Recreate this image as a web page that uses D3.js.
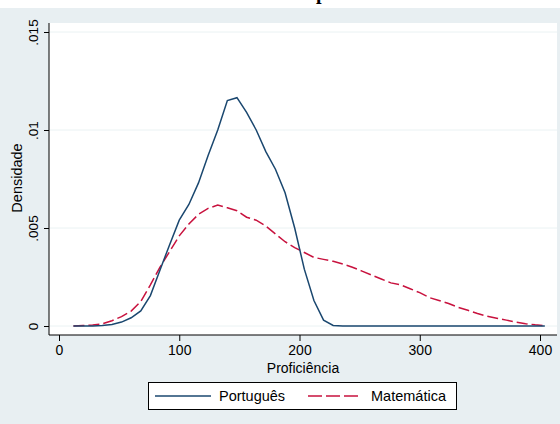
<!DOCTYPE html>
<html>
<head>
<meta charset="utf-8">
<script src="https://cdn.jsdelivr.net/npm/d3@7"></script>
<style>
  body { margin: 0; background: #ffffff; }
  text { font-family: "Liberation Sans", Arial, sans-serif; }
</style>
</head>
<body>
<script>
// evaluation points (Proficiência)
const xs = [12, 20, 28, 36, 44, 52, 60, 68, 76, 84, 92, 100, 108, 116, 124, 132, 140, 148, 156, 164,
            172, 180, 188, 196, 204, 212, 220, 228, 236, 244, 252, 260, 268, 276, 284, 292, 300, 308,
            316, 324, 332, 340, 348, 356, 364, 372, 380, 388, 396, 404];

const portugues = [0, 0, 0, 0.00002, 0.00008, 0.0002, 0.00042, 0.00077, 0.00155, 0.00286, 0.00415,
                   0.0054, 0.0062, 0.0073, 0.0087, 0.0100, 0.0115, 0.01165, 0.0109, 0.0100, 0.0089,
                   0.0080, 0.0068, 0.0050, 0.0029, 0.0013, 0.0003, 0.00003, 0, 0, 0, 0, 0, 0, 0, 0,
                   0, 0, 0, 0, 0, 0, 0, 0, 0, 0, 0, 0, 0, 0];

const matematica = [0, 0.00002, 0.00005, 0.00011, 0.00027, 0.00048, 0.00076, 0.00125, 0.0021, 0.0030,
                    0.0038, 0.0046, 0.0052, 0.0057, 0.0060, 0.00617, 0.00603, 0.00588, 0.00555, 0.0054,
                    0.0051, 0.0047, 0.0043, 0.0040, 0.00375, 0.0035, 0.0034, 0.0033, 0.00316, 0.0030,
                    0.0028, 0.0026, 0.0024, 0.0022, 0.0021, 0.0019, 0.0017, 0.00145, 0.0013, 0.00115,
                    0.00095, 0.0008, 0.00064, 0.0005, 0.0004, 0.0003, 0.0002, 0.00012, 0.00006, 0.00002];

const xTicks = [0, 100, 200, 300, 400];
const yTicks = [0, 0.005, 0.01, 0.015];
const yTickLabels = ["0", ".005", ".01", ".015"];
const seriesNames = ["Português", "Matemática"];

const W = 560, H = 424;
const plot = { left: 49, right: 557, top: 23, bottom: 335 };

const svg = d3.select('body').append('svg')
  .attr('width', W).attr('height', H);

// backgrounds
svg.append('rect').attr('width', W).attr('height', H).attr('fill', '#ffffff');
svg.append('rect').attr('x', 0).attr('y', 8).attr('width', W).attr('height', H - 8).attr('fill', '#e8eff2');
svg.append('rect')
  .attr('x', plot.left).attr('y', plot.top)
  .attr('width', plot.right - plot.left).attr('height', plot.bottom - plot.top)
  .attr('fill', '#ffffff');

// title (cut off at the top, only the descender shows)
svg.append('text')
  .attr('x', 222).attr('y', -1)
  .style('font-family', '"Liberation Serif", "Times New Roman", serif')
  .style('font-weight', 'bold').style('font-size', '20px')
  .text('Densidade por área');

const x = d3.scaleLinear().domain([0, 400]).range([59, 540]);
const y = d3.scaleLinear().domain([0, 0.015]).range([326, 32]);

// grid
svg.append('g').selectAll('line')
  .data(yTicks).enter().append('line')
  .attr('x1', plot.left + 1).attr('x2', plot.right)
  .attr('y1', d => y(d)).attr('y2', d => y(d))
  .attr('stroke', '#eaf2f3').attr('stroke-width', 1);

// axes
const yAxis = d3.axisLeft(y).tickValues(yTicks)
  .tickFormat((d, i) => yTickLabels[i]).tickSize(5).tickPadding(3);
const gy = svg.append('g').attr('transform', 'translate(' + plot.left + ',0)').call(yAxis);
gy.select('.domain').attr('d', 'M0,' + plot.top + 'V' + plot.bottom).attr('stroke', '#000');
gy.selectAll('.tick line').attr('stroke', '#000');
gy.selectAll('.tick text')
  .attr('transform', 'rotate(-90)')
  .attr('x', 0).attr('y', -11)
  .attr('dy', 0)
  .attr('text-anchor', 'middle')
  .style('font-size', '13.5px').attr('fill', '#000');

const xAxis = d3.axisBottom(x).tickValues(xTicks).tickSize(6).tickPadding(4);
const gx = svg.append('g').attr('transform', 'translate(0,' + plot.bottom + ')').call(xAxis);
gx.select('.domain').attr('d', 'M' + plot.left + ',0H' + plot.right).attr('stroke', '#000');
gx.selectAll('.tick line').attr('stroke', '#000');
gx.selectAll('.tick text').style('font-size', '14px').attr('fill', '#000');

// axis titles
svg.append('text')
  .attr('x', 303).attr('y', 373)
  .attr('text-anchor', 'middle')
  .style('font-size', '14px')
  .text('Proficiência');

svg.append('text')
  .attr('transform', 'translate(22,' + 178 + ') rotate(-90)')
  .attr('text-anchor', 'middle')
  .style('font-size', '14.5px')
  .text('Densidade');

// lines
const line = d3.line()
  .x((d, i) => x(xs[i]))
  .y(d => y(d));

svg.append('path')
  .datum(matematica)
  .attr('d', line)
  .attr('fill', 'none')
  .attr('stroke', '#c8123e')
  .attr('stroke-width', 1.5)
  .attr('stroke-dasharray', '11,4');

svg.append('path')
  .datum(portugues)
  .attr('d', line)
  .attr('fill', 'none')
  .attr('stroke', '#1a476f')
  .attr('stroke-width', 1.5);

// legend
const legend = svg.append('g');
legend.append('rect')
  .attr('x', 148.5).attr('y', 382.5)
  .attr('width', 308).attr('height', 27)
  .attr('fill', '#ffffff').attr('stroke', '#000');

const legendItems = [
  { name: seriesNames[0], x0: 155, x1: 211, tx: 219, color: '#1a476f', dash: null },
  { name: seriesNames[1], x0: 308, x1: 362, tx: 371, color: '#c8123e', dash: '14,4' }
];
legendItems.forEach(function(d) {
  legend.append('line')
    .attr('x1', d.x0).attr('x2', d.x1)
    .attr('y1', 396).attr('y2', 396)
    .attr('stroke', d.color).attr('stroke-width', 1.5)
    .attr('stroke-dasharray', d.dash);
  legend.append('text')
    .attr('x', d.tx).attr('y', 401)
    .style('font-size', '14.5px')
    .text(d.name);
});
</script>
</body>
</html>
